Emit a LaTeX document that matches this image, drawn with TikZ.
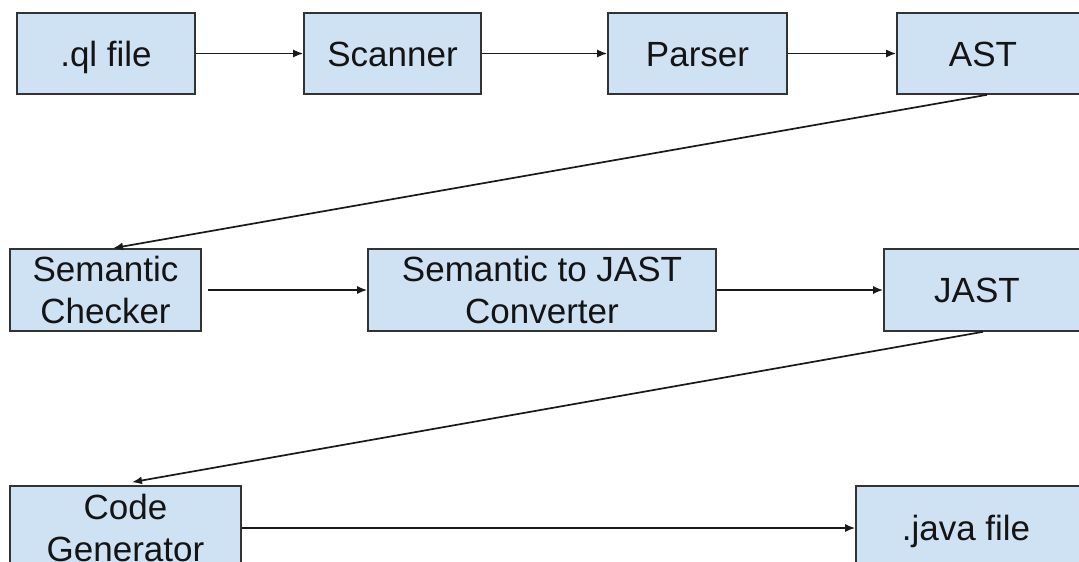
\documentclass[tikz,border=0pt]{standalone}
\usepackage{fontspec}
\setmainfont{Liberation Sans}
\usetikzlibrary{arrows.meta,calc}
\definecolor{boxfill}{HTML}{CFE2F3}
\definecolor{boxline}{HTML}{333333}
\definecolor{txt}{HTML}{141414}
\tikzset{
  stage/.style={draw=boxline, fill=boxfill, line width=1.6pt, rectangle,
    inner sep=0pt, align=center, text=txt,
    font=\fontsize{35}{42}\selectfont},
  oneline/.style={text height=25pt, text depth=0pt},
  flow/.style={draw=black!90, line width=1.7pt,
    -{Latex[length=10pt,width=8pt]}}
}
\begin{document}
\begin{tikzpicture}[x=1pt,y=-1pt]
\useasboundingbox (0,0) rectangle (1079,562);
\clip (0,0) rectangle (1079,562);
% row 1
\node[stage, oneline, minimum width=178pt, minimum height=81pt] (ql) at (106,53.5) {.ql file};
\node[stage, oneline, minimum width=177pt, minimum height=81pt] (scan) at (392.5,53.5) {Scanner};
\node[stage, oneline, minimum width=179pt, minimum height=81pt] (parse) at (697.5,53.5) {Parser};
\node[stage, oneline, minimum width=193pt, minimum height=81pt] (ast) at (993.5,53.5) {AST\hspace{21pt}};
% row 2
\node[stage, minimum width=191pt, minimum height=82pt] (check) at (105.5,290) {Semantic\\Checker};
\node[stage, minimum width=348pt, minimum height=82pt] (conv) at (542,290) {Semantic to JAST\\Converter};
\node[stage, oneline, minimum width=206pt, minimum height=82pt] (jast) at (987,290) {JAST\hspace{20pt}};
% row 3
\node[stage, minimum width=231pt, minimum height=84pt] (gen) at (125.5,528) {Code\\Generator};
\node[stage, oneline, minimum width=234pt, minimum height=84pt] (java) at (973,528) {.java file\hspace{14pt}};
% connectors
\draw[flow] (ql) -- (scan);
\draw[flow] (scan) -- (parse);
\draw[flow] (parse) -- (ast);
\draw[flow] ([xshift=-6.5pt]ast.south) -- ([xshift=7.5pt]check.north);
\draw[flow, shorten <=6pt] (check) -- (conv);
\draw[flow] (conv) -- (jast);
\draw[flow] ([xshift=-4pt]jast.south) -- ([xshift=6.5pt,yshift=3pt]gen.north);
\draw[flow] (gen.east |- java.west) -- (java.west);
\end{tikzpicture}
\end{document}
